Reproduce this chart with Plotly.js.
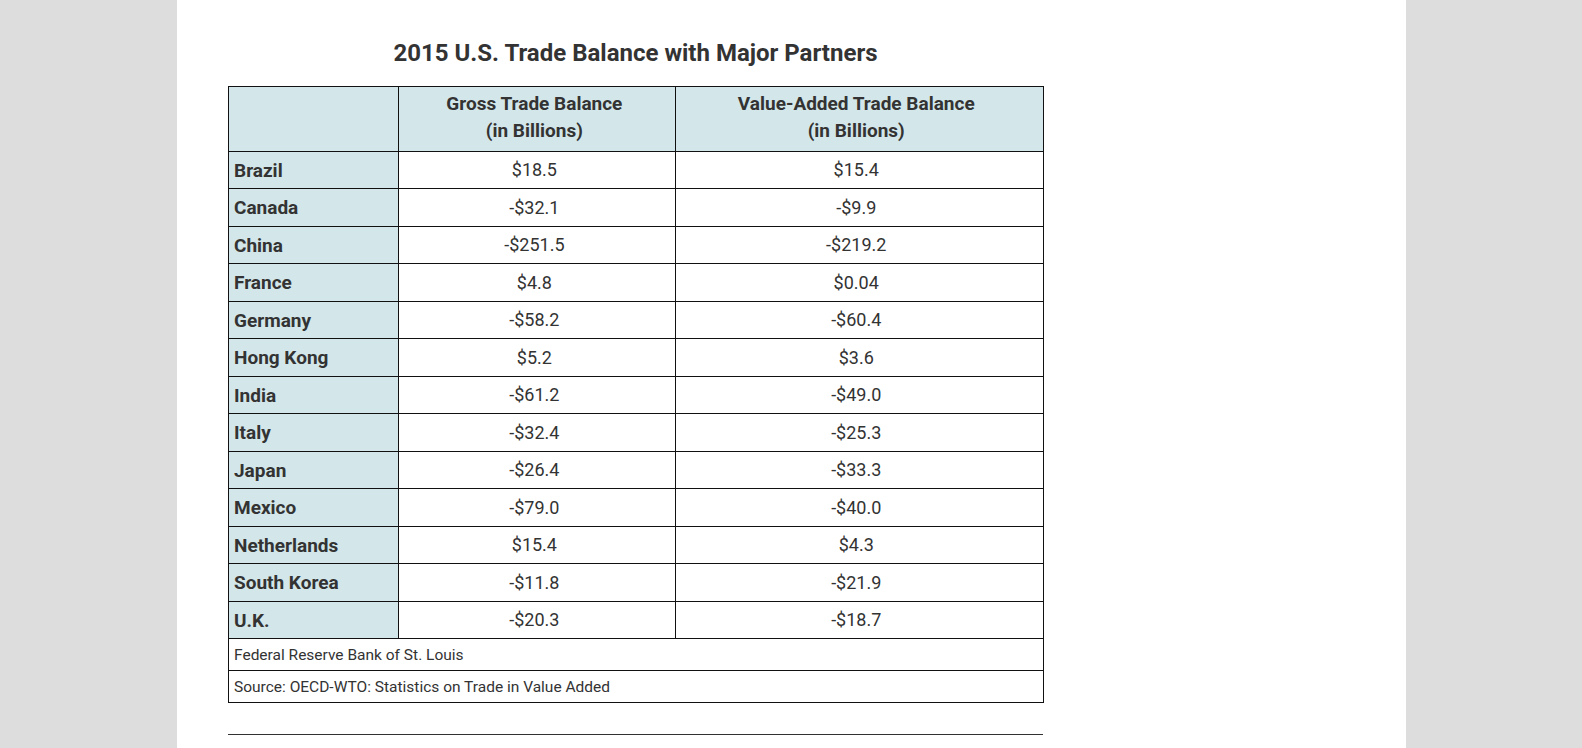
<!DOCTYPE html>
<html>
<head>
<meta charset="utf-8">
<script src="https://cdn.plot.ly/plotly-3.0.1.min.js"></script>
<style>
  html, body { margin: 0; padding: 0; background: #dddddd; }
  #chart { width: 1582px; height: 748px; }
</style>
</head>
<body>
<div id="chart"></div>
<script>
const chartTitle = "2015 U.S. Trade Balance with Major Partners";
const headerLine1 = ["", "Gross Trade Balance", "Value-Added Trade Balance"];
const headerLine2 = ["", "(in Billions)", "(in Billions)"];
const countries = ["Brazil", "Canada", "China", "France", "Germany", "Hong Kong", "India",
                   "Italy", "Japan", "Mexico", "Netherlands", "South Korea", "U.K."];
const grossBalance = [18.5, -32.1, -251.5, 4.8, -58.2, 5.2, -61.2, -32.4, -26.4, -79.0, 15.4, -11.8, -20.3];
const valueAddedBalance = [15.4, -9.9, -219.2, 0.04, -60.4, 3.6, -49.0, -25.3, -33.3, -40.0, 4.3, -21.9, -18.7];
const footerLines = ["Federal Reserve Bank of St. Louis", "Source: OECD-WTO: Statistics on Trade in Value Added"];

const W = 1582, H = 748;
function fmt(v) {
  const a = Math.abs(v);
  const s = (a !== 0 && a < 0.1) ? a.toFixed(2) : a.toFixed(1);
  return (v < 0 ? "-" : "") + "$" + s;
}
const px = x => x / W;
const py = y => 1 - y / H;

const tblLeft = 228, tblRight = 1043;
const tblTop = 86, headH = 65, rowH = 37.5;
const bodyEnd = tblTop + headH + rowH * countries.length;
const footH = 32;
const colW = [170.5, 276.5, 368];

const blue = "#d3e7ea";
const lineCol = "#111111";
const textCol = "#333333";
const clear = "rgba(0,0,0,0)";
const blank = countries.map(() => "");
const noLine = { color: clear, width: 0 };
const noFill = { color: clear };

/* grid: fills and borders */
const gridMain = {
  type: "table",
  domain: { x: [px(tblLeft), px(tblRight)], y: [py(bodyEnd + 2), py(tblTop)] },
  columnwidth: colW,
  header: {
    values: [[""], [""], [""]],
    height: headH,
    fill: { color: blue },
    line: { color: lineCol, width: 1 }
  },
  cells: {
    values: [blank, blank, blank],
    height: rowH,
    fill: { color: [blue, "#ffffff", "#ffffff"] },
    line: { color: lineCol, width: 1 }
  }
};

const gridFoot = {
  type: "table",
  domain: { x: [px(tblLeft), px(tblRight)], y: [py(bodyEnd + 2 * footH + 4), py(bodyEnd)] },
  columnwidth: [815],
  header: { values: [[""]], height: footH, fill: { color: "#ffffff" }, line: { color: lineCol, width: 1 } },
  cells: { values: [[""]], height: footH, fill: { color: "#ffffff" }, line: { color: lineCol, width: 1 } }
};

/* text layers (nudged so each line sits where the reference puts it) */
const dxText = -2;
const headTop = 87.5, headLineH = 27;
const textHead = {
  type: "table",
  domain: { x: [px(tblLeft + dxText), px(tblRight + dxText)], y: [py(headTop + 2 * headLineH + 4), py(headTop)] },
  columnwidth: colW,
  header: {
    values: headerLine1.map(h => [h]),
    height: headLineH, align: "center", fill: noFill, line: noLine,
    font: { family: "Roboto", size: 19, color: textCol, weight: 700 }
  },
  cells: {
    values: headerLine2.map(h => [h]),
    height: headLineH, align: "center", fill: noFill, line: noLine,
    font: { family: "Roboto", size: 19, color: textCol, weight: 700 }
  }
};

const dyMain = 3.7;
const textMain = {
  type: "table",
  domain: { x: [px(tblLeft + dxText), px(tblRight + dxText)], y: [py(bodyEnd + 8), py(tblTop + dyMain)] },
  columnwidth: colW,
  header: { values: [[""], [""], [""]], height: headH, fill: noFill, line: noLine },
  cells: {
    values: [countries, grossBalance.map(fmt), valueAddedBalance.map(fmt)],
    height: rowH,
    align: ["left", "center", "center"],
    fill: noFill, line: noLine,
    font: { family: "Roboto", size: [19, 18, 18], color: textCol, weight: [700, 400, 400] }
  }
};

const dyFoot = 1.5;
const textFoot = {
  type: "table",
  domain: { x: [px(tblLeft + dxText), px(tblRight + dxText)], y: [py(bodyEnd + 2 * footH + 8), py(bodyEnd + dyFoot)] },
  columnwidth: [815],
  header: {
    values: [[footerLines[0]]], height: footH, align: "left", fill: noFill, line: noLine,
    font: { family: "Roboto", size: 15.5, color: textCol }
  },
  cells: {
    values: [[footerLines[1]]], height: footH, align: "left", fill: noFill, line: noLine,
    font: { family: "Roboto", size: 15.5, color: textCol }
  }
};

const layout = {
  width: W, height: H,
  margin: { l: 0, r: 0, t: 0, b: 0 },
  paper_bgcolor: "#dddddd",
  title: {
    text: chartTitle,
    x: 635.5 / W, xanchor: "center", xref: "paper",
    y: 1 - 53 / H, yanchor: "middle", yref: "container",
    font: { family: "Roboto", size: 24, color: "#333333", weight: 700 }
  },
  shapes: [
    { type: "rect", xref: "paper", yref: "paper", x0: px(177), x1: px(1406), y0: 0, y1: 1,
      fillcolor: "#ffffff", line: { width: 0 }, layer: "below" },
    { type: "line", xref: "paper", yref: "paper", x0: px(tblLeft), x1: px(tblRight),
      y0: py(734.5), y1: py(734.5), line: { color: "#333333", width: 1 } }
  ],
  showlegend: false
};

Plotly.newPlot("chart", [gridMain, gridFoot, textHead, textMain, textFoot], layout,
               { displayModeBar: false, staticPlot: true });
</script>
</body>
</html>
